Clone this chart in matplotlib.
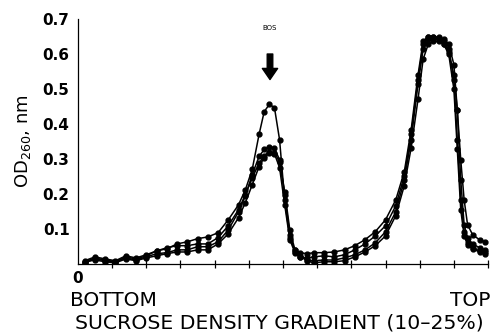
import matplotlib
matplotlib.use('Agg')
import matplotlib.pyplot as plt

# fraction position along the gradient (bottom -> top)
x = [0.2, 0.5, 0.8, 1.1, 1.4, 1.7, 2.0, 2.3, 2.6, 2.9, 3.2, 3.5, 3.8, 4.1,
     4.4, 4.7, 4.9, 5.1, 5.3, 5.45, 5.6, 5.75, 5.9, 6.05, 6.2, 6.35, 6.5,
     6.7, 6.9, 7.2, 7.5, 7.8, 8.1, 8.4, 8.7, 9.0, 9.3, 9.55, 9.75, 9.95,
     10.1, 10.25, 10.4, 10.55, 10.7, 10.85, 11.0, 11.1, 11.2, 11.3, 11.4,
     11.55, 11.75, 11.9]

# OD260 readings, four gradients
od_a = [0.006, 0.017, 0.011, 0.006, 0.020, 0.014, 0.023, 0.037, 0.043, 0.057,
        0.063, 0.072, 0.077, 0.089, 0.126, 0.169, 0.212, 0.270, 0.370, 0.435,
        0.456, 0.447, 0.355, 0.183, 0.075, 0.040, 0.032, 0.029, 0.032, 0.032,
        0.034, 0.040, 0.052, 0.069, 0.092, 0.126, 0.183, 0.264, 0.384, 0.540,
        0.636, 0.650, 0.650, 0.648, 0.642, 0.628, 0.570, 0.440, 0.240, 0.112,
        0.075, 0.057, 0.046, 0.040]
od_b = [0.003, 0.014, 0.009, 0.006, 0.017, 0.011, 0.020, 0.029, 0.032, 0.040,
        0.040, 0.049, 0.049, 0.063, 0.097, 0.149, 0.195, 0.255, 0.307, 0.327,
        0.335, 0.330, 0.298, 0.198, 0.083, 0.034, 0.020, 0.011, 0.009, 0.011,
        0.011, 0.017, 0.026, 0.040, 0.060, 0.092, 0.149, 0.240, 0.355, 0.513,
        0.613, 0.642, 0.645, 0.642, 0.636, 0.613, 0.527, 0.355, 0.183, 0.092,
        0.060, 0.046, 0.037, 0.034]
od_c = [0.006, 0.011, 0.006, 0.003, 0.014, 0.009, 0.017, 0.023, 0.029, 0.034,
        0.034, 0.040, 0.040, 0.057, 0.086, 0.132, 0.175, 0.226, 0.278, 0.304,
        0.318, 0.318, 0.292, 0.206, 0.097, 0.040, 0.023, 0.009, 0.003, 0.006,
        0.006, 0.009, 0.020, 0.034, 0.052, 0.080, 0.138, 0.224, 0.332, 0.470,
        0.585, 0.628, 0.636, 0.636, 0.630, 0.607, 0.540, 0.440, 0.298, 0.183,
        0.112, 0.083, 0.069, 0.063]
od_d = [0.009, 0.020, 0.014, 0.009, 0.023, 0.017, 0.026, 0.037, 0.046, 0.052,
        0.052, 0.057, 0.057, 0.075, 0.109, 0.155, 0.198, 0.246, 0.287, 0.309,
        0.321, 0.315, 0.275, 0.169, 0.069, 0.032, 0.020, 0.017, 0.020, 0.023,
        0.020, 0.026, 0.040, 0.057, 0.080, 0.109, 0.166, 0.252, 0.370, 0.527,
        0.628, 0.648, 0.648, 0.642, 0.628, 0.599, 0.499, 0.327, 0.155, 0.080,
        0.054, 0.043, 0.034, 0.029]

y_ticks = [0.1, 0.2, 0.3, 0.4, 0.5, 0.6, 0.7]
y_labels = ['0.1', '0.2', '0.3', '0.4', '0.5', '0.6', '0.7']
x_minor = [1, 2, 3, 4, 5, 6, 7, 8, 9, 10, 11, 12]

fig = plt.figure(figsize=(4.93, 3.34), dpi=100)
ax = fig.add_axes([0.158, 0.21, 0.832, 0.733])

for od in (od_a, od_b, od_c, od_d):
    ax.plot(x, od, color='black', lw=1.1, marker='o', ms=3.5)

ax.set_xlim(0, 12)
ax.set_ylim(0, 0.7)
ax.spines['top'].set_visible(False)
ax.spines['right'].set_visible(False)
ax.spines['left'].set_linewidth(0.9)
ax.spines['bottom'].set_linewidth(0.9)

ax.set_yticks(y_ticks)
ax.set_yticklabels(y_labels, fontweight='bold', fontsize=11)
ax.tick_params(axis='y', length=0, pad=6)

ax.set_xticks([0])
ax.set_xticklabels(['0'], fontweight='bold', fontsize=11)
ax.set_xticks(x_minor, minor=True)
ax.tick_params(axis='x', which='major', length=0, pad=5)
ax.tick_params(axis='x', which='minor', direction='inout', length=6, width=0.9)

ax.set_ylabel('OD$_{260}$, nm', fontsize=13, labelpad=7)

# 80S marker
ax.annotate('', xy=(5.62, 0.527), xytext=(5.62, 0.60),
            arrowprops=dict(facecolor='black', edgecolor='black',
                            width=4, headwidth=11, headlength=8))
ax.text(5.62, 0.673, 'BOS', fontsize=5, ha='center', va='center')

fig.text(70 / 493, 1 - 300 / 334, 'BOTTOM', fontsize=14.5, ha='left', va='center')
fig.text(490 / 493, 1 - 300 / 334, 'TOP', fontsize=14.5, ha='right', va='center')
fig.text(279 / 493, 1 - 323 / 334, 'SUCROSE DENSITY GRADIENT (10\u201325%)',
         fontsize=14.7, ha='center', va='center')

fig.savefig('out.png', dpi=100)
